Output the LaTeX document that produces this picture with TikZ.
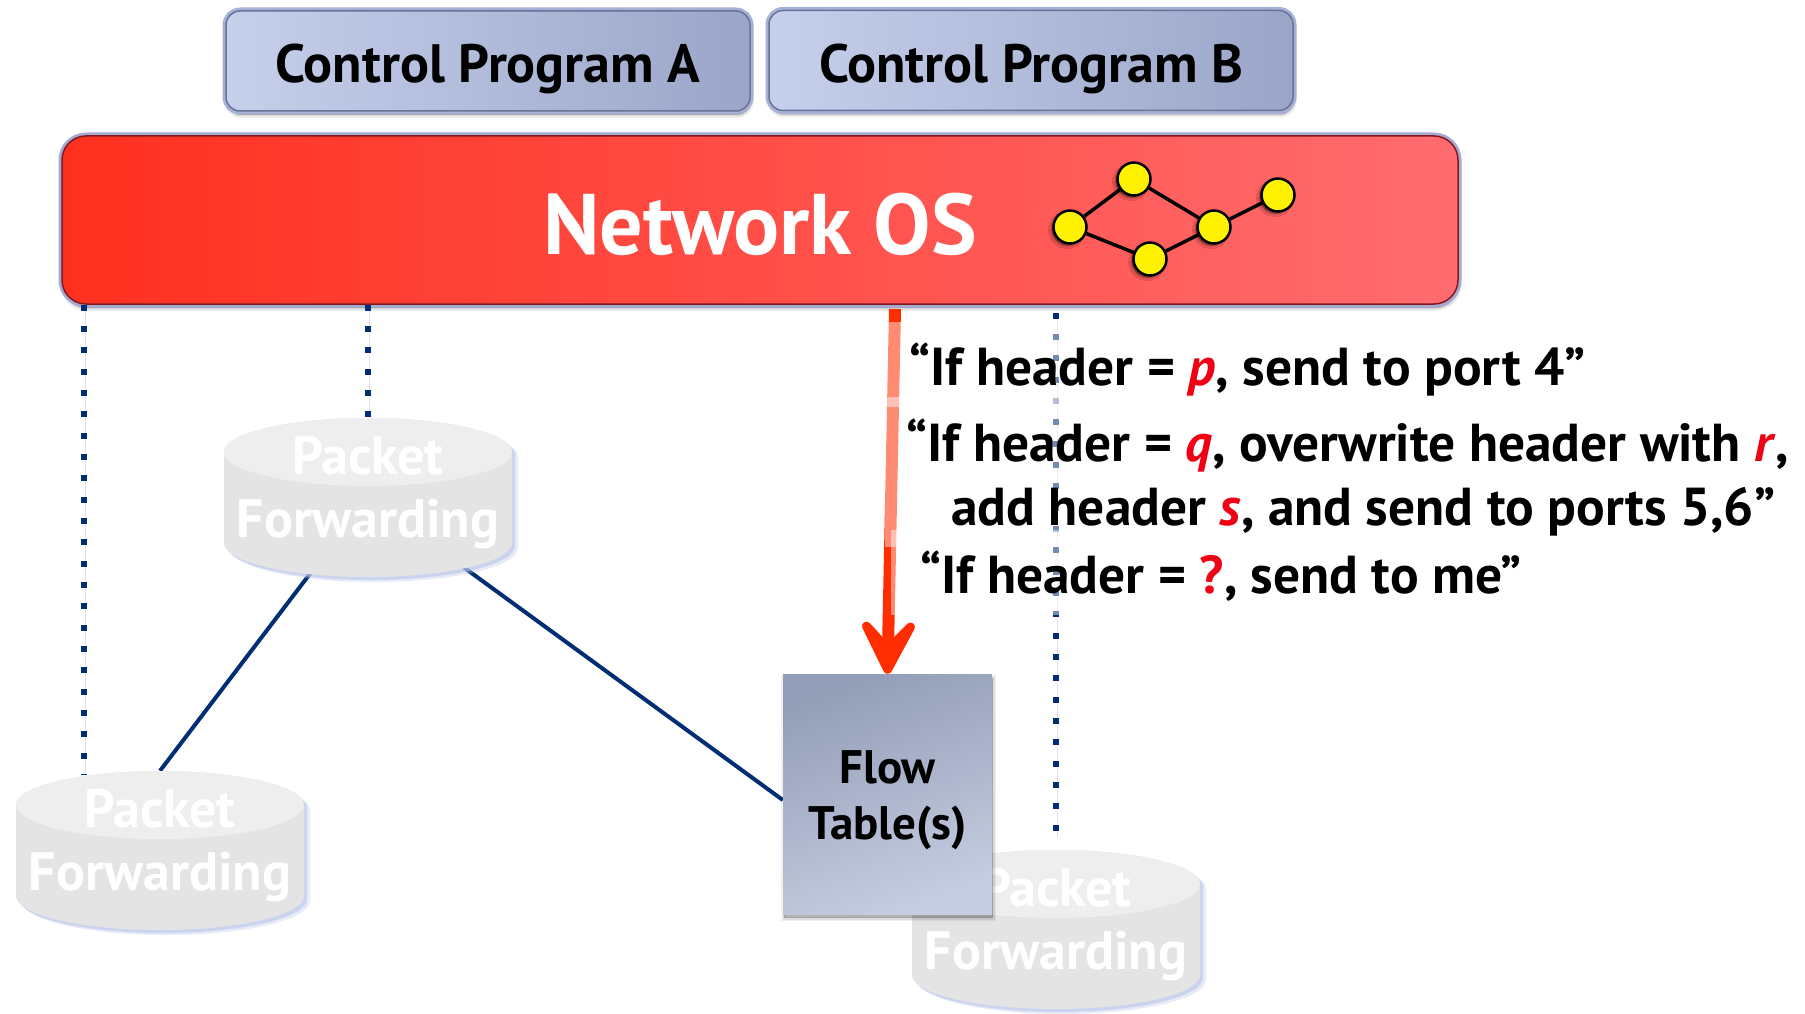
\documentclass[tikz,border=0pt]{standalone}
\usepackage{fontspec}
\setmainfont{PT Sans}
\usetikzlibrary{arrows.meta}
\usetikzlibrary{shadows}
\usetikzlibrary{calc}

\definecolor{navylink}{RGB}{0,45,115}
\definecolor{arrowred}{RGB}{255,45,0}
\definecolor{rulered}{RGB}{240,0,20}
\definecolor{boxrim}{RGB}{165,177,214}
\definecolor{boxline}{RGB}{105,115,150}
\definecolor{boxleft}{RGB}{198,208,236}
\definecolor{boxright}{RGB}{155,165,200}
\definecolor{osrim}{RGB}{165,170,210}
\definecolor{osline}{RGB}{130,25,30}
\definecolor{osleft}{RGB}{255,48,30}
\definecolor{osright}{RGB}{255,108,112}
\definecolor{flowdark}{RGB}{148,158,184}
\definecolor{flowlight}{RGB}{197,205,224}
\definecolor{pftop}{RGB}{238,238,238}
\definecolor{pfbody}{RGB}{228,228,228}
\definecolor{pfshadow}{RGB}{185,197,232}

\newcommand{\canoutline}{(-144,-45.5) -- (-144,45.5) arc (180:360:144pt and 34pt) -- (144,-45.5) arc (0:180:144pt and 34pt) -- cycle}
\newcommand{\rulevar}[1]{\textcolor{rulered}{\textit{#1}}}

\tikzset{
	softshadow/.style={
		general shadow={shadow xshift=1pt, shadow yshift=-4pt, draw=black, line width=6pt, fill=black, opacity=0.06},
		general shadow={shadow xshift=1pt, shadow yshift=-4pt, draw=black, line width=3pt, fill=black, opacity=0.08},
		general shadow={shadow xshift=1pt, shadow yshift=-4pt, fill=black, opacity=0.14}},
	programbox/.style={rectangle, rounded corners=14pt, minimum width=524pt, minimum height=100pt, inner sep=0pt,
		softshadow, preaction={draw=boxrim, line width=7pt}, draw=boxline, line width=1.5pt,
		left color=boxleft, right color=boxright, text height=44pt, text depth=0pt,
		font=\fontsize{54}{60}\selectfont\bfseries},
	osbox/.style={rectangle, rounded corners=24pt, minimum width=1396pt, minimum height=168pt, inner sep=0pt,
		softshadow, preaction={draw=osrim, line width=7pt}, draw=osline, line width=1.5pt,
		left color=osleft, right color=osright, text=white, text height=68pt, text depth=0pt,
		font=\fontsize{86}{90}\selectfont\bfseries},
	netnode/.style={circle, draw=black, line width=2.5pt, fill=yellow, minimum size=33pt, inner sep=0pt,
		general shadow={shadow xshift=-3pt, shadow yshift=-3pt, draw=black, line width=5pt, fill=black, opacity=0.12},
		general shadow={shadow xshift=-2pt, shadow yshift=-2pt, fill=black, opacity=0.3}},
	netlink/.style={draw=black, line width=3.5pt},
	packetbox/.style={rectangle, minimum width=288pt, minimum height=159pt, inner sep=0pt},
	packetcan/.pic={
		\fill [pfshadow, opacity=0.35, shift={(6,5)}] \canoutline;
		\fill [pfshadow, opacity=0.6, shift={(3,3)}] \canoutline;
		\fill [pfbody] \canoutline;
		\fill [pftop] (0,-45.5) ellipse (144pt and 34pt);
	},
	packetlabel/.style={text=white, align=center, inner sep=0pt, font=\fontsize{54}{63}\selectfont\bfseries},
	flowslot/.style={rectangle, minimum width=209pt, minimum height=240pt, inner sep=0pt},
	flowbox/.style={flowslot, softshadow, top color=flowdark, bottom color=flowlight, shading angle=20},
	flowlabel/.style={align=center, inner sep=0pt, font=\fontsize{47}{56}\selectfont\bfseries},
	wirelink/.style={draw=navylink, line width=4pt},
	controllink/.style={draw=navylink, line width=6pt, dash pattern=on 6pt off 15.33pt,
		preaction={draw=black, opacity=0.12, transform canvas={xshift=1pt, yshift=-3pt}}},
	rulearrow/.style={draw=arrowred, line width=12pt, -{Stealth[length=78pt, width=80pt, inset=42pt, round]}},
	rulelabel/.style={anchor=base west, inner sep=0pt, font=\fontsize{53.4}{56}\selectfont\bfseries},
	textveil/.style={fill=white, opacity=0.45},
}

\begin{document}
\begin{tikzpicture}[x=1pt, y=-1pt]
	\useasboundingbox (0,0) rectangle (1805,1014);

	\node [osbox] (os) at (760,220) {Network OS};
	\node [programbox] (progA) at (488,61) {Control Program A};
	\node [programbox] (progB) at (1031,60.5) {Control Program B};

	\node [packetbox] (pf1) at (368,497.5) {};
	\node [packetbox] (pf2) at (160,850.5) {};
	\node [packetbox] (pf3) at (1056,929.5) {};
	\node [flowslot] (flow) at (887.5,794) {};

	\coordinate (ctrlA) at (84,775);
	\draw [controllink] (ctrlA |- os.south) -- (ctrlA);
	\draw [controllink] (pf1.north |- os.south) -- (pf1.north);
	\draw [controllink, shorten <=8pt, shorten >=16pt] (pf3.north |- os.south) -- (pf3.north);

	\draw [wirelink] (pf1.center) -- (pf2.north);
	\draw [wirelink] (pf1.center) -- ($(flow.west)+(0,6)$);

	\pic at (pf1) {packetcan};
	\pic at (pf2) {packetcan};
	\pic at (pf3) {packetcan};
	\node [packetlabel] (pf1label) at (368,493) {Packet\\Forwarding};
	\node [packetlabel] (pf2label) at (160,846) {Packet\\Forwarding};
	\node [packetlabel] (pf3label) at (1056,925) {Packet\\Forwarding};

	\node [flowbox] (flowface) at (flow) {};
	\node [flowlabel] (flowtext) at (887.5,800) {Flow\\Table(s)};

	\coordinate (rulestart) at (895,309);
	\draw [rulearrow] (rulestart) -- (flow.north);

	\fill [textveil] (885,322) rectangle (1805,407);
	\fill [textveil] (885,397) rectangle (1805,547);
	\fill [textveil] (891,530) rectangle (1805,615);

	\node [rulelabel] (rule1) at (909,385) {“If header = \rulevar{p}, send to port 4”};
	\node [rulelabel] (rule2) at (906,461) {“If header = \rulevar{q}, overwrite header with \rulevar{r},};
	\node [rulelabel] (rule3) at (951,525) {add header \rulevar{s}, and send to ports 5,6”};
	\node [rulelabel] (rule4) at (920,593) {“If header = \textcolor{rulered}{?}, send to me”};

	\node [netnode] (net1) at (1070,227) {};
	\node [netnode] (net2) at (1134,179) {};
	\node [netnode] (net3) at (1214,227) {};
	\node [netnode] (net4) at (1150,259) {};
	\node [netnode] (net5) at (1278,195) {};
	\draw [netlink] (net1) -- (net2);
	\draw [netlink] (net2) -- (net3);
	\draw [netlink] (net1) -- (net4);
	\draw [netlink] (net4) -- (net3);
	\draw [netlink] (net3) -- (net5);
\end{tikzpicture}
\end{document}
